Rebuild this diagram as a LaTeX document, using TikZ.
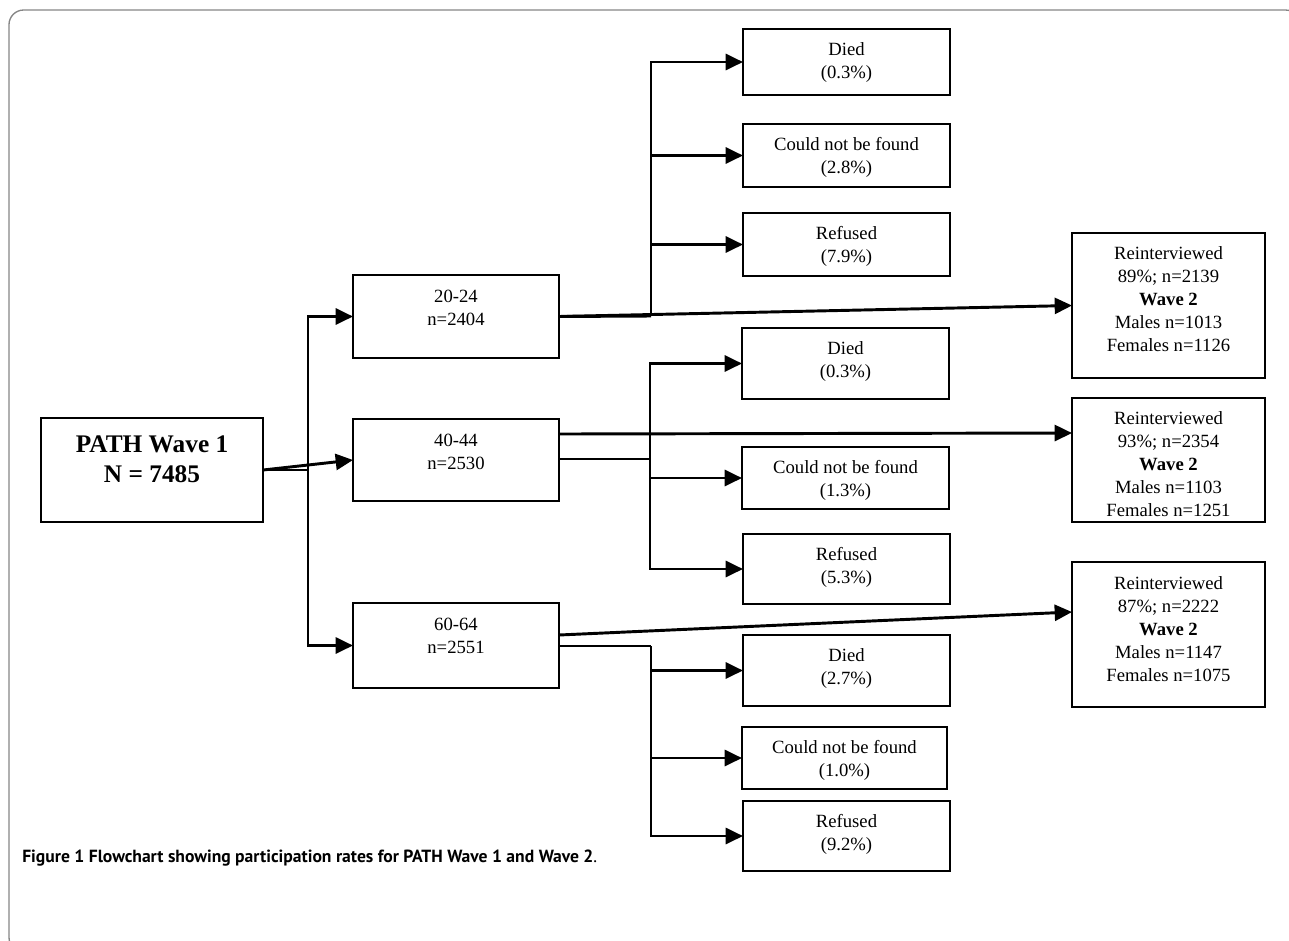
\documentclass[tikz,border=0pt]{standalone}
\usepackage{fontspec}
\setmainfont{Liberation Serif}
\newfontfamily\capfont{PT Sans}
\usetikzlibrary{arrows.meta,calc}
\newlength\pxu \setlength\pxu{0.75pt}
\newcommand\boxtext[4]{\parbox[c][#2\pxu][t]{#1\pxu}{\centering\rule{0pt}{#3\pxu}#4}}
\tikzset{
  box/.style={draw, line width=1.6pt, inner sep=0pt, outer sep=0pt, anchor=north west,
    font=\fontsize{14}{17.25}\selectfont},
  conn/.style={line width=2.2pt},
  arr/.style={conn, -{Triangle[length=13pt,width=12pt]}},
  frame/.style={draw=black!48, line width=1pt, rounded corners=11pt}
}
\begin{document}
\begin{tikzpicture}[x=0.75pt,y=-0.75pt]
\useasboundingbox (0,0) rectangle (1289,940);
\begin{scope}
\clip (0,0) rectangle (1289,940);
\draw[frame] (9,10) rectangle (1300,952);
\end{scope}

% main box
\node[box, font=\bfseries\fontsize{19}{22.5}\selectfont] (path) at (41,418)
  {\boxtext{222}{104}{34}{PATH Wave 1\\N = 7485}};
% age groups
\node[box] (a1) at (353,275) {\boxtext{206}{83}{27}{20-24\\n=2404}};
\node[box] (a2) at (353,419) {\boxtext{206}{82}{27}{40-44\\n=2530}};
\node[box] (a3) at (353,603) {\boxtext{206}{85}{27}{60-64\\n=2551}};
% outcomes group 1
\node[box] (d1) at (743,29)  {\boxtext{207}{66}{26}{Died\\(0.3\%)}};
\node[box] (c1) at (743,124) {\boxtext{207}{63}{26}{Could not be found\\(2.8\%)}};
\node[box] (r1) at (743,213) {\boxtext{207}{63}{26}{Refused\\(7.9\%)}};
% outcomes group 2
\node[box] (d2) at (742,328) {\boxtext{207}{71}{26}{Died\\(0.3\%)}};
\node[box] (c2) at (742,447) {\boxtext{207}{62}{26}{Could not be found\\(1.3\%)}};
\node[box] (r2) at (743,534) {\boxtext{207}{70}{26}{Refused\\(5.3\%)}};
% outcomes group 3
\node[box] (d3) at (743,635) {\boxtext{207}{71}{26}{Died\\(2.7\%)}};
\node[box] (c3) at (742,727) {\boxtext{205}{62}{26}{Could not be found\\(1.0\%)}};
\node[box] (r3) at (743,801) {\boxtext{207}{70}{26}{Refused\\(9.2\%)}};
% wave 2
\node[box] (w1) at (1072,233) {\boxtext{193}{145}{26}{Reinterviewed\\89\%; n=2139\\\textbf{Wave 2}\\Males n=1013\\Females n=1126}};
\node[box] (w2) at (1072,398) {\boxtext{193}{124}{26}{Reinterviewed\\93\%; n=2354\\\textbf{Wave 2}\\Males n=1103\\Females n=1251}};
\node[box] (w3) at (1072,562) {\boxtext{193}{145}{27}{Reinterviewed\\87\%; n=2222\\\textbf{Wave 2}\\Males n=1147\\Females n=1075}};

% from PATH
\coordinate (f0) at (308,470);
\draw[conn] (path.east) -- (f0);
\draw[arr] (f0) |- (a1.west);
\draw[arr] (f0) |- (a3.west);
\draw[arr] (path.east) -- (a2.west);

% 20-24
\coordinate (b1) at (651,316);
\draw[conn] (a1.east) -- (b1);
\draw[arr] (b1) |- (d1.west);
\draw[arr] (b1) |- (c1.west);
\draw[arr] (b1) |- (r1.west);
\draw[arr] (a1.east) -- (w1.west);

% 40-44
\coordinate (b2) at (650,459);
\draw[conn] (a2.east |- b2) -- (b2);
\draw[arr] (b2) |- (d2.west);
\draw[arr] (b2) |- (c2.west);
\draw[arr] (b2) |- (r2.west);
\draw[arr] ($(a2.north east)+(0,15)$) -- ($(w2.north west)+(0,35)$);

% 60-64
\coordinate (b3) at (651,646);
\draw[conn] (a3.east |- b3) -- (b3);
\draw[arr] (b3) |- (d3.west);
\draw[arr] (b3) |- (c3.west);
\draw[arr] (b3) |- (r3.west);
\draw[arr] ($(a3.north east)+(0,32)$) -- ($(w3.north west)+(0,50)$);

% caption
\node[anchor=base west, inner sep=0pt, font=\capfont\fontsize{13.2}{15}\selectfont] (cap) at (22,862)
  {\textbf{Figure 1 Flowchart showing participation rates for PATH Wave 1 and Wave 2}.};
\end{tikzpicture}
\end{document}
